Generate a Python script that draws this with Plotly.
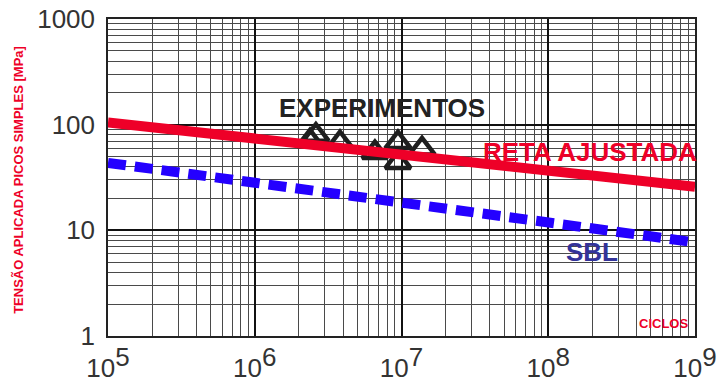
import plotly.graph_objects as go

# ---- data ----
exp_cycles = [2.38e6, 2.61e6, 3.81e6, 6.59e6, 9.46e6, 9.46e6, 1.38e7]
exp_stress = [70.3, 79.6, 67.7, 54.4, 67.7, 43.8, 59.0]

reta_cycles = [1e5, 1e9]
reta_stress = [105.0, 25.9]

sbl_cycles = [1e5, 1e9]
sbl_stress = [43.5, 7.7]

x_tickvals = [1e5, 1e6, 1e7, 1e8, 1e9]
x_ticktext = ["10<sup><span style='font-size:26px'>%d</span></sup>" % e for e in [5, 6, 7, 8, 9]]
y_tickvals = [1, 10, 100, 1000]
y_ticktext = ["1", "10", "100", "1000"]

FONT = "Liberation Sans, Arial, sans-serif"
RED = "#EE0028"
BLUE = "#2400FF"

fig = go.Figure()

fig.add_trace(go.Scatter(
    x=exp_cycles, y=exp_stress, mode="markers",
    marker=dict(symbol="triangle-up-open", size=22, color="#1e1e1e",
                line=dict(width=4.5, color="#1e1e1e")),
    showlegend=False, hoverinfo="skip"))

fig.add_trace(go.Scatter(
    x=reta_cycles, y=reta_stress, mode="lines",
    line=dict(color=RED, width=10), showlegend=False))

fig.add_trace(go.Scatter(
    x=sbl_cycles, y=sbl_stress, mode="lines",
    line=dict(color=BLUE, width=10, dash="18px,9px"), showlegend=False))

axis_common = dict(
    type="log", showline=True, linecolor="#222222", linewidth=1.5, mirror=True,
    showgrid=True, gridcolor="#111111", gridwidth=1.5, zeroline=False,
    automargin=False,
    ticks="", tickfont=dict(family=FONT, size=26, color="#333333"),
    minor=dict(dtick="D1", showgrid=True, gridcolor="#4a4a4a", gridwidth=1, ticks=""),
)

fig.update_xaxes(range=[5, 9], tickmode="array", tickvals=x_tickvals,
                 ticktext=x_ticktext, ticklabelstandoff=8, **axis_common)
fig.update_yaxes(range=[0, 3], tickmode="array", tickvals=y_tickvals,
                 ticktext=y_ticktext, ticklabelstandoff=6, **axis_common)

annotations = [
    dict(text="<b>EXPERIMENTOS</b>", x=0.4676, y=0.718, color="#222222", size=26),
    dict(text="<b>RETA AJUSTADA</b>", x=0.821, y=0.581, color=RED, size=26),
    dict(text="<b>SBL</b>", x=0.8245, y=0.265, color="#333399", size=26),
    dict(text="<b>CICLOS</b>", x=0.9455, y=0.0395, color=RED, size=13),
]
for a in annotations:
    fig.add_annotation(text=a["text"], x=a["x"], y=a["y"], xref="paper", yref="paper",
                       xanchor="center", yanchor="middle", showarrow=False,
                       font=dict(family=FONT, size=a["size"], color=a["color"]))

fig.add_annotation(text="<b>TENSÃO APLICADA PICOS SIMPLES [MPa]</b>",
                   x=-0.1516, y=0.4926, xref="paper", yref="paper",
                   xanchor="center", yanchor="middle", textangle=-90, showarrow=False,
                   font=dict(family=FONT, size=13, color=RED))

fig.update_layout(
    template="none",
    width=726, height=385,
    margin=dict(l=108, r=31, t=19, b=49),
    paper_bgcolor="white", plot_bgcolor="white",
    showlegend=False,
)

fig.write_html("out.html")
